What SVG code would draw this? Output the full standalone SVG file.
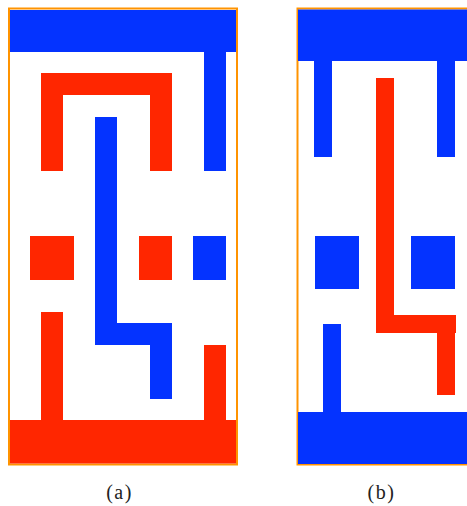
<svg xmlns="http://www.w3.org/2000/svg" width="467" height="506" viewBox="0 0 467 506">
<style>
.b{fill:#0433ff}
.r{fill:#ff2600}
.frame{fill:none;stroke:#ff9300;stroke-width:2}
.lbl{font-family:"Liberation Serif",serif;font-size:20px;letter-spacing:1.5px;fill:#222;text-anchor:middle}
</style>
<rect width="467" height="506" fill="#fff"/>
<g id="panel-a">
<rect class="frame" x="9" y="8.5" width="228" height="456"/>
<rect class="b" x="10" y="10" width="226" height="42"/>
<rect class="b" x="204" y="52" width="22" height="119"/>
<path class="r" d="M41 73H172V171H150V95H63V171H41Z"/>
<path class="b" d="M95 117H117V323H172V399H150V345H95Z"/>
<rect class="r" x="30" y="236" width="44" height="44"/>
<rect class="r" x="139" y="236" width="33" height="44"/>
<rect class="b" x="193" y="236" width="33" height="44"/>
<rect class="r" x="41" y="312" width="22" height="110"/>
<rect class="r" x="204" y="345" width="22" height="77"/>
<rect class="r" x="10" y="420" width="226" height="43.5"/>
</g>
<g id="panel-b">
<rect class="frame" x="297.5" y="8.5" width="228" height="456"/>
<rect class="b" x="298" y="9.5" width="169" height="51.5"/>
<rect class="b" x="314" y="60" width="18" height="97"/>
<rect class="b" x="437" y="60" width="18" height="97"/>
<path class="r" d="M376 78H394V315H456V333H455V395H437V333H376Z"/>
<rect class="b" x="315" y="236" width="44" height="53"/>
<rect class="b" x="411" y="236" width="44" height="53"/>
<rect class="b" x="323" y="324" width="18" height="90"/>
<rect class="b" x="298" y="412" width="169" height="52"/>
</g>
<g id="labels">
<text class="lbl" x="119.5" y="499">(a)</text>
<text class="lbl" x="381.5" y="499">(b)</text>
</g>
</svg>
